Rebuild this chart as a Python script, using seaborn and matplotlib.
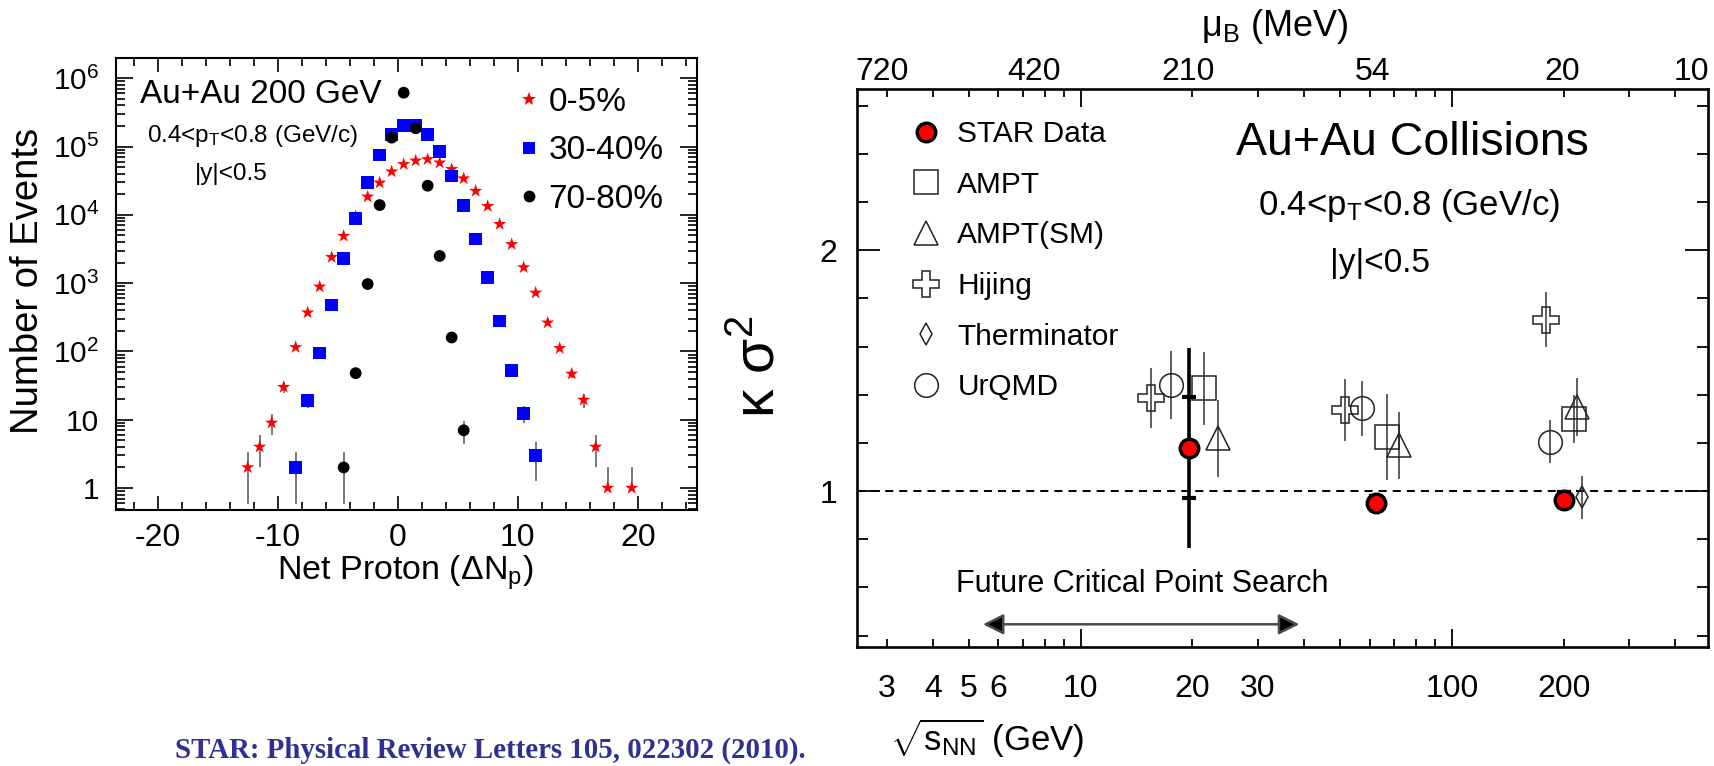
import numpy as np
import pandas as pd
import matplotlib
matplotlib.use("Agg")
import matplotlib.pyplot as plt
from matplotlib.lines import Line2D
from matplotlib.ticker import LogLocator, MultipleLocator, NullFormatter, NullLocator
import seaborn as sns

# ---------------- Net-proton multiplicity distributions (Au+Au 200 GeV) ----------------
centralities = ["0-5%", "30-40%", "70-80%"]

net_proton_0_5 = [-12.5, -11.5, -10.5, -9.5, -8.5, -7.5, -6.5, -5.5, -4.5, -3.5, -2.5, -1.5,
                  -0.5, 0.5, 1.5, 2.5, 3.5, 4.5, 5.5, 6.5, 7.5, 8.5, 9.5, 10.5, 11.5, 12.5,
                  13.5, 14.5, 15.5, 16.5, 17.5, 19.5]
events_0_5 = [2, 4, 9, 30, 115, 370, 885, 2400, 4900, 9500, 18400, 29500,
              43000, 55000, 62000, 65000, 58000, 46600, 34000, 22300, 13400, 7300, 3700, 1700,
              720, 263, 111, 47, 19.5, 4, 1, 1]

net_proton_30_40 = [-8.5, -7.5, -6.5, -5.5, -4.5, -3.5, -2.5, -1.5, -0.5, 0.5, 1.5, 2.5,
                    3.5, 4.5, 5.5, 6.5, 7.5, 8.5, 9.5, 10.5, 11.5]
events_30_40 = [2, 19, 95, 480, 2300, 8900, 29500, 75000, 150000, 205000, 205000, 150000,
                84000, 37000, 13600, 4400, 1220, 280, 53, 12.4, 3]

net_proton_70_80 = [-4.5, -3.5, -2.5, -1.5, -0.5, 0.5, 1.5, 2.5, 3.5, 4.5, 5.5]
events_70_80 = [2, 48, 970, 13900, 135000, 614000, 185000, 26700, 2500, 160, 7]

# ---------------- Kurtosis x variance vs collision energy ----------------
star_energy = [19.6, 62.4, 200]
star_ks2 = [1.18, 0.95, 0.965]
star_stat = [0.415, 0.03, 0.03]
star_sys = [0.21, 0.03, 0.03]

ampt_energy = [21.5, 66.9, 213]
ampt_ks2 = [1.426, 1.225, 1.30]
ampt_err = [0.152, 0.18, 0.10]

amptsm_energy = [23.4, 72.1, 218]
amptsm_ks2 = [1.22, 1.19, 1.35]
amptsm_err = [0.16, 0.14, 0.12]

hijing_energy = [15.5, 51.5, 179]
hijing_ks2 = [1.385, 1.336, 1.712]
hijing_err = [0.125, 0.128, 0.115]

therminator_energy = [224]
therminator_ks2 = [0.974]
therminator_err = [0.09]

urqmd_energy = [17.5, 57.1, 184]
urqmd_ks2 = [1.44, 1.343, 1.205]
urqmd_err = [0.14, 0.116, 0.09]

model_labels = ["STAR Data", "AMPT", "AMPT(SM)", "Hijing", "Therminator", "UrQMD"]

# baryon chemical potential labels on the top axis, placed at their collision energies
mu_b_labels = ["720", "420", "210", "54", "20", "10"]
mu_b_energy = [2.91, 7.47, 19.4, 61.2, 198, 442]

energy_major = [10, 100]
energy_minor = [3, 4, 5, 6, 7, 8, 9, 20, 30, 40, 50, 60, 70, 80, 90, 200, 300, 400]
energy_minor_labels = ["3", "4", "5", "6", "", "", "", "20", "30", "", "", "", "", "", "",
                       "200", "", ""]

citation = "STAR: Physical Review Letters 105, 022302 (2010)."

# ---------------- style ----------------
sns.set_theme(style="ticks", rc={
    "axes.edgecolor": "black", "text.color": "black", "axes.labelcolor": "black",
    "xtick.color": "black", "ytick.color": "black",
})
plt.rcParams["font.family"] = ["Liberation Sans", "DejaVu Sans"]
plt.rcParams["mathtext.fontset"] = "custom"
plt.rcParams["mathtext.rm"] = "Liberation Sans"
plt.rcParams["mathtext.it"] = "Liberation Sans:italic"
plt.rcParams["mathtext.bf"] = "Liberation Sans:bold"
plt.rcParams["mathtext.default"] = "regular"

W, H = 1715, 766
fig = plt.figure(figsize=(W / 100, H / 100), dpi=100)


def box(left, top, right, bottom):
    return [left / W, 1 - bottom / H, (right - left) / W, (bottom - top) / H]


def fxy(x, y):
    return x / W, 1 - y / H


ax1 = fig.add_axes(box(116, 58, 697, 510))
ax2 = fig.add_axes(box(856.7, 89.3, 1708, 646.7))

# ---------------- left panel ----------------
ax1.set_yscale("log")
dist = pd.concat([
    pd.DataFrame({"net": net_proton_0_5, "events": events_0_5, "centrality": centralities[0]}),
    pd.DataFrame({"net": net_proton_30_40, "events": events_30_40, "centrality": centralities[1]}),
    pd.DataFrame({"net": net_proton_70_80, "events": events_70_80, "centrality": centralities[2]}),
], ignore_index=True)

palette = {"0-5%": "#ff0000", "30-40%": "#0000ff", "70-80%": "black"}
markers = {"0-5%": "*", "30-40%": "s", "70-80%": "o"}
sizes = {"0-5%": 100, "30-40%": 82, "70-80%": 72}

# Poisson error bars
for cen, grp in dist.groupby("centrality"):
    y = grp["events"].to_numpy(float)
    err = np.sqrt(y)
    lo = np.where(err < y, err, 0.0)
    ax1.errorbar(grp["net"], y, yerr=[lo, err], fmt="none", ecolor="#555555",
                 elinewidth=1.1, zorder=2)

sns.scatterplot(data=dist, x="net", y="events", hue="centrality", style="centrality",
                size="centrality", palette=palette, markers=markers, sizes=sizes,
                linewidth=0, legend=False, ax=ax1, zorder=3)
ax1.set(xlabel="", ylabel="")
ax1.set_xlim(-23.47, 24.94)
ax1.set_ylim(0.476, 1.98e6)

ax1.set_xticks([-20, -10, 0, 10, 20], ["-20", "-10", "0", "10", "20"])
ax1.xaxis.set_minor_locator(MultipleLocator(2))
ax1.set_yticks([1, 10, 1e2, 1e3, 1e4, 1e5, 1e6],
               ["1", "10", "10$^{2}$", "10$^{3}$", "10$^{4}$", "10$^{5}$", "10$^{6}$"])
ax1.yaxis.set_minor_locator(LogLocator(base=10, subs=np.arange(2, 10)))
ax1.yaxis.set_minor_formatter(NullFormatter())

ax1.tick_params(which="both", direction="in", top=True, right=True, width=1.2)
ax1.tick_params(axis="x", which="major", length=10, labelsize=23, pad=9)
ax1.tick_params(axis="x", which="minor", length=5.5)
ax1.tick_params(axis="y", which="major", length=12, labelsize=21.5, pad=12)
ax1.tick_params(axis="y", which="minor", length=6.5)
for sp in ax1.spines.values():
    sp.set_linewidth(1.5)
    sp.set_visible(True)

ax1.text(0.2487, 0.9004, "Au+Au 200 GeV", transform=ax1.transAxes, ha="center",
         va="baseline", fontsize=24)
ax1.text(0.2358, 0.8148, "0.4<p$_{T}$<0.8 (GeV/c)", transform=ax1.transAxes, ha="center",
         va="baseline", fontsize=17.5)
ax1.text(0.198, 0.730, "|y|<0.5", transform=ax1.transAxes, ha="center", va="baseline",
         fontsize=17.5)

left_handles = [Line2D([], [], ls="none", marker=markers[c], color=palette[c],
                       ms=np.sqrt(sizes[c]), mew=0) for c in centralities]
ax1.legend(left_handles, centralities, loc="upper left",
           bbox_to_anchor=fxy(512, 87), bbox_transform=fig.transFigure, frameon=False,
           fontsize=24, handlelength=1.0, handletextpad=0.1, labelspacing=0.52,
           borderpad=0, borderaxespad=0)

fig.text(*fxy(28, 281), "Number of Events", rotation=90, ha="center", va="center",
         fontsize=27.5)
fig.text(*fxy(405.5, 580), "Net Proton (ΔN$_{p}$)", ha="center", va="baseline",
         fontsize=24.5)

# ---------------- right panel ----------------
ax2.set_xscale("log")
ax2.set_xlim(2.49, 490)
ax2.set_ylim(0.354, 2.668)
ax2.axhline(1.0, color="black", lw=1.45, ls=(0, (4, 3)), zorder=1)

model_kw = dict(ls="none", mfc="none", mec="#222222", mew=1.1, ecolor="#333333",
                elinewidth=1.1, capsize=0, zorder=3)
ax2.errorbar(ampt_energy, ampt_ks2, yerr=ampt_err, marker="s", ms=17, **model_kw)
ax2.errorbar(amptsm_energy, amptsm_ks2, yerr=amptsm_err, marker="^", ms=17, **model_kw)
ax2.errorbar(hijing_energy, hijing_ks2, yerr=hijing_err, marker="P", ms=18.5, **model_kw)
ax2.errorbar(therminator_energy, therminator_ks2, yerr=therminator_err, marker="d", ms=11,
             **model_kw)
ax2.errorbar(urqmd_energy, urqmd_ks2, yerr=urqmd_err, marker="o", ms=17, **model_kw)

ax2.errorbar(star_energy, star_ks2, yerr=star_stat, fmt="none", ecolor="black",
             elinewidth=2.6, zorder=4)
ax2.errorbar(star_energy, star_ks2, yerr=star_sys, fmt="none", ecolor="black",
             elinewidth=0, capsize=5, capthick=3, zorder=4)
sns.scatterplot(x=star_energy, y=star_ks2, color="#ff0000", edgecolor="black",
                linewidth=2.5, s=13.3 ** 2, legend=False, ax=ax2, zorder=5)
ax2.set(xlabel="", ylabel="")

ax2.set_xticks(energy_major, [str(v) for v in energy_major])
ax2.set_xticks(energy_minor, energy_minor_labels, minor=True)
ax2.set_yticks([1, 2], ["1", "2"])
ax2.set_yticks([0.4, 0.6, 0.8, 1.2, 1.4, 1.6, 1.8, 2.2, 2.4, 2.6], minor=True)
ax2.tick_params(which="both", direction="in", top=True, right=True, labeltop=False,
                width=1.3)
ax2.tick_params(axis="x", which="major", length=13, labelsize=23, pad=20)
ax2.tick_params(axis="x", which="minor", length=6, labelsize=23, pad=20)
ax2.tick_params(axis="y", which="major", length=16.5, labelsize=23, pad=14)
ax2.tick_params(axis="y", which="minor", length=8)
for sp in ax2.spines.values():
    sp.set_linewidth(1.9)
    sp.set_visible(True)

sec = ax2.secondary_xaxis("top")
sec.set_xticks(mu_b_energy, mu_b_labels)
sec.xaxis.set_minor_locator(NullLocator())
sec.tick_params(which="both", length=0, labelsize=23, pad=2)
sec.spines["top"].set_visible(False)

ax2.annotate("", xy=(5.45, 0.447), xytext=(38.8, 0.447),
             arrowprops=dict(arrowstyle="<|-|>,head_length=0.9,head_width=0.45",
                             mutation_scale=14, lw=1.8, ec="#4a4a4a", fc="black",
                             shrinkA=0, shrinkB=0))
ax2.text(14.6, 0.614, "Future Critical Point Search", ha="center", va="center",
         fontsize=22)
ax2.text(78.5, 2.444, "Au+Au Collisions", ha="center", va="center", fontsize=33.5)
ax2.text(76.6, 2.145, "0.4<p$_{T}$<0.8 (GeV/c)", ha="center", va="baseline", fontsize=25)
ax2.text(64.2, 1.909, "|y|<0.5", ha="center", va="baseline", fontsize=24)

right_handles = [
    Line2D([], [], ls="none", marker="o", ms=13.3, mfc="#ff0000", mec="black", mew=2.5),
    Line2D([], [], ls="none", marker="s", ms=17, mfc="none", mec="#222222", mew=1.1),
    Line2D([], [], ls="none", marker="^", ms=17, mfc="none", mec="#222222", mew=1.1),
    Line2D([], [], ls="none", marker="P", ms=18.5, mfc="none", mec="#222222", mew=1.1),
    Line2D([], [], ls="none", marker="d", ms=11, mfc="none", mec="#222222", mew=1.1),
    Line2D([], [], ls="none", marker="o", ms=17, mfc="none", mec="#222222", mew=1.1),
]
ax2.legend(right_handles, model_labels, loc="upper left",
           bbox_to_anchor=fxy(908, 120), bbox_transform=fig.transFigure, frameon=False,
           fontsize=21.5, handlelength=1.2, handletextpad=0.45, labelspacing=0.76,
           borderpad=0, borderaxespad=0)

fig.text(*fxy(760, 367), "κ σ$^{2}$", rotation=90, ha="center", va="center", fontsize=41)
fig.text(*fxy(1275, 27), "μ$_{B}$ (MeV)", ha="center", va="center", fontsize=26)
fig.text(*fxy(987, 738), r"$\sqrt{s_{NN}}$ (GeV)", ha="center", va="center", fontsize=25)

fig.text(*fxy(175, 758), citation, family=["Liberation Serif", "DejaVu Serif"],
         fontweight="bold", fontsize=20.8, color="#2f3192", ha="left", va="baseline")

fig.savefig("out.png", dpi=100)
